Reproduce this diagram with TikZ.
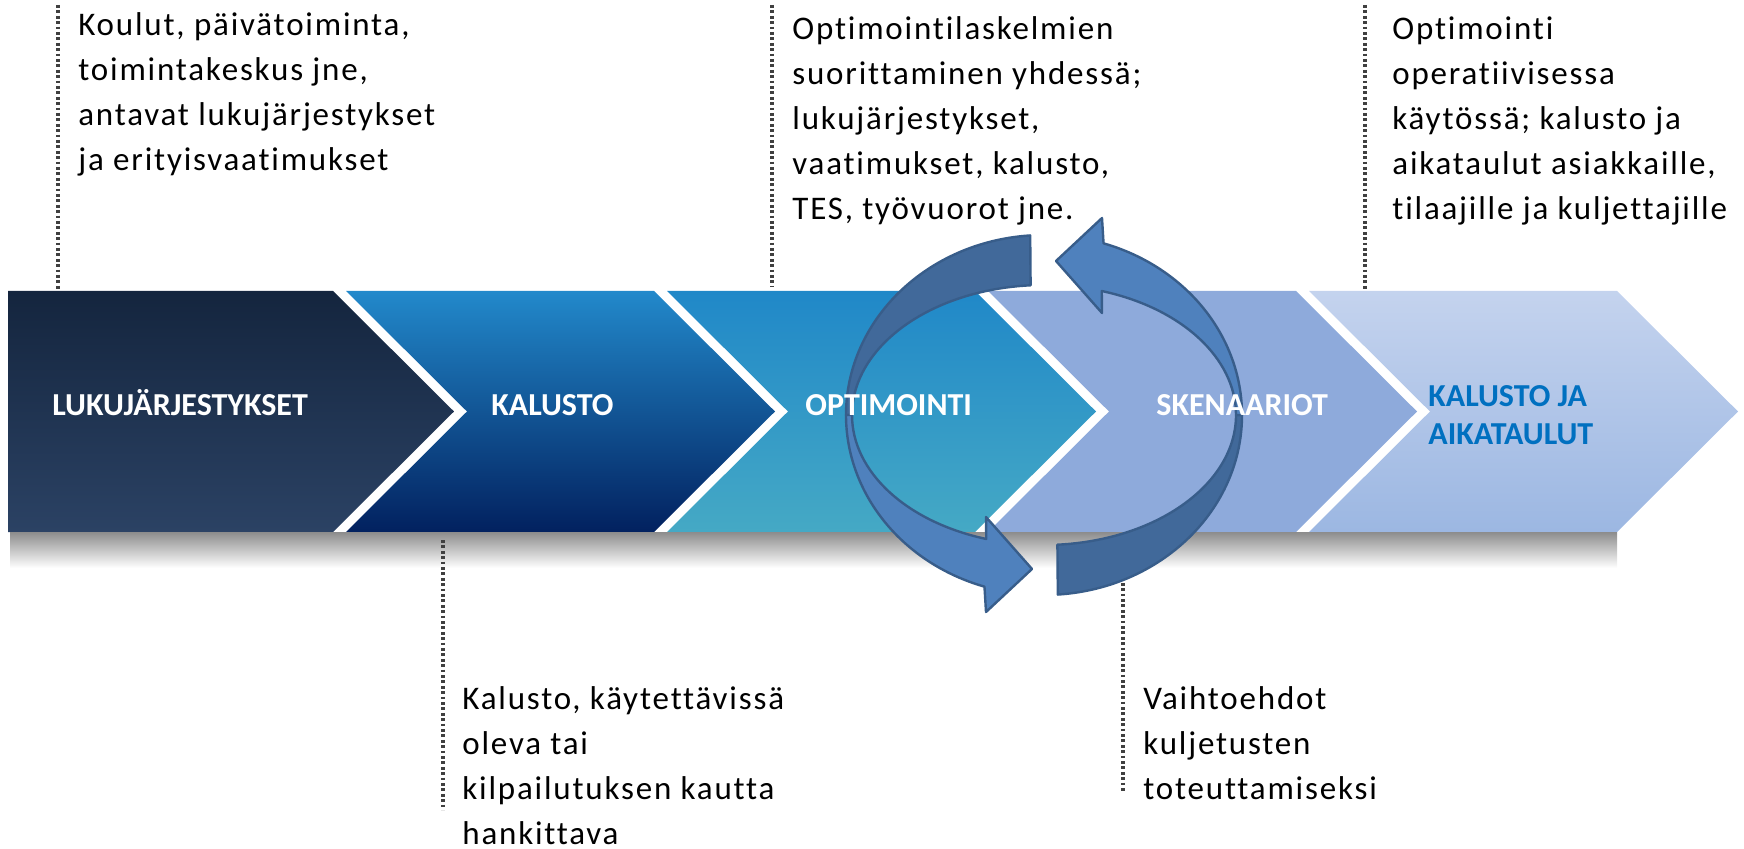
\documentclass[tikz,border=0pt]{standalone}
\usepackage{fontspec}
\setmainfont[Ligatures=NoCommon]{Carlito}
\newfontfamily\infofont[LetterSpace=5.5, Ligatures=NoCommon]{Carlito}
\usepackage{xcolor}
\usepackage{tikz}
\definecolor{navyTop}{HTML}{14253E}
\definecolor{navyBot}{HTML}{2B4264}
\definecolor{blueTop}{HTML}{2289CB}
\definecolor{blueMid}{HTML}{1B6BAB}
\definecolor{blueBot}{HTML}{02215F}
\definecolor{tealTop}{HTML}{2088C8}
\definecolor{tealBot}{HTML}{45A9C5}
\definecolor{periFill}{HTML}{8EAADB}
\definecolor{paleTop}{HTML}{C4D3EE}
\definecolor{paleBot}{HTML}{9CB7E2}
\definecolor{shadowGray}{HTML}{8C8C8C}
\definecolor{dotGray}{HTML}{404040}
\definecolor{ringDark}{HTML}{41699A}
\definecolor{ringLight}{HTML}{4F81BD}
\definecolor{ringEdge}{HTML}{385D8A}
\definecolor{labelBlue}{HTML}{0070C0}
\tikzset{
	% base of a multi-line node = baseline of its last line
	infotext/.style={anchor=base west, inner sep=0pt, align=left,
			font=\infofont\fontsize{16.5}{22.5}\selectfont},
	steplabel/.style={anchor=base west, inner sep=0pt, text=white, align=left,
			font=\bfseries\fontsize{16}{19}\selectfont},
	dotline/.style={draw=dotGray, line width=1.6pt, dash pattern=on 1.4pt off 1.3pt},
	ringdark/.style={fill=ringDark, draw=ringEdge, line width=1.2pt, line join=round},
	ringlight/.style={fill=ringLight, draw=ringEdge, line width=1.2pt, line join=round}
}

\begin{document}
\begin{tikzpicture}[x=0.5pt,y=-0.5pt]
	\useasboundingbox (0,0) rectangle (1744,849);
	% chevrons
	\shade[top color=navyTop, bottom color=navyBot] (8,291) -- (333,291) -- (454,411.5) -- (333,532) -- (8,532) -- cycle;
	\shade[top color=blueTop, middle color=blueMid, bottom color=blueBot] (346,291) -- (654,291) -- (775,411.5) -- (654,532) -- (346,532) -- (467,411.5) -- cycle;
	\shade[top color=tealTop, bottom color=tealBot] (667,291) -- (975,291) -- (1096,411.5) -- (975,532) -- (667,532) -- (788,411.5) -- cycle;
	\fill[periFill] (988,291) -- (1296,291) -- (1417,411.5) -- (1296,532) -- (988,532) -- (1109,411.5) -- cycle;
	\shade[top color=paleTop, bottom color=paleBot] (1309,291) -- (1617,291) -- (1738,411.5) -- (1617,532) -- (1309,532) -- (1430,411.5) -- cycle;
	\shade[top color=shadowGray, bottom color=white] (10,532) rectangle (1617,568);

	% texts
	\node[infotext] (koulut) at (78,171) {Koulut, päivätoiminta,\\toimintakeskus jne,\\antavat lukujärjestykset\\ja erityisvaatimukset};
	\node[infotext] (laskelmat) at (792,220) {Optimointilaskelmien\\suorittaminen yhdessä;\\lukujärjestykset,\\vaatimukset, kalusto,\\TES, työvuorot jne.};
	\node[infotext] (operat) at (1392,220) {Optimointi\\operatiivisessa\\käytössä; kalusto ja\\aikataulut asiakkaille,\\tilaajille ja kuljettajille};
	\node[infotext] (hankinta) at (462,844) {Kalusto, käytettävissä\\oleva tai\\kilpailutuksen kautta\\hankittava};
	\node[infotext] (vaihto) at (1143,799) {Vaihtoehdot\\kuljetusten\\toteuttamiseksi};

	% dotted connectors
	\coordinate (d1a) at (58,5);    \coordinate (d1b) at (58,291);
	\coordinate (d2a) at (443,540); \coordinate (d2b) at (443,810);
	\coordinate (d3a) at (772,5);   \coordinate (d3b) at (772,287);
	\coordinate (d4a) at (1123,545);\coordinate (d4b) at (1123,792);
	\coordinate (d5a) at (1365,5);  \coordinate (d5b) at (1365,290);
	\draw[dotline] (d1a) -- (d1b);
	\draw[dotline] (d2a) -- (d2b);
	\draw[dotline] (d3a) -- (d3b);
	\draw[dotline] (d4a) -- (d4b);
	\draw[dotline] (d5a) -- (d5b);

	% cycle arrows
	\foreach \r in {0,180}{
		\begin{scope}[shift={(1044,415)}, rotate=\r]
			\draw[ringdark] (266:198 and 180) arc[start angle=266, end angle=180, x radius=198, y radius=180]
				-- (180:192 and 130) arc[start angle=180, end angle=266, x radius=192, y radius=130] -- cycle;
			\draw[ringlight] (180:198 and 180) arc[start angle=180, end angle=107.5, x radius=198, y radius=180]
				-- (-58,197) -- (-12,154) -- (-58,102)
				-- (107.5:192 and 130) arc[start angle=107.5, end angle=180, x radius=192, y radius=130] -- cycle;
		\end{scope}
	}

	% step labels
	\node[steplabel] (lukuj) at (52,416) {LUKUJÄRJESTYKSET};
	\node[steplabel] (kalusto) at (491,416) {KALUSTO};
	\node[steplabel] (optim) at (805,416) {OPTIMOINTI};
	\node[steplabel] (skenaariot) at (1156,416) {SKENAARIOT};
	\node[steplabel, text=labelBlue] (aikataulut) at (1428,445) {KALUSTO JA\\AIKATAULUT};
\end{tikzpicture}
\end{document}
